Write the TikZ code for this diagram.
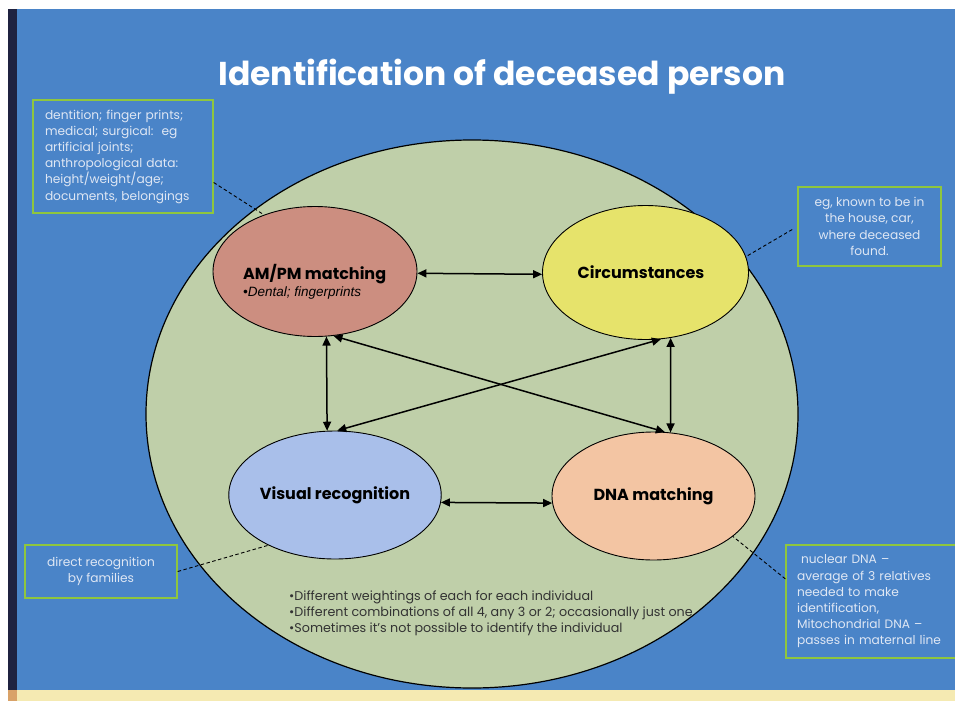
\documentclass[tikz,border=0pt]{standalone}
\usepackage{fontspec}
\setmainfont{Poppins}
\newfontfamily\arialfont{Liberation Sans}
\usetikzlibrary{arrows.meta,shapes.geometric}

\definecolor{slideblue}{HTML}{4A84C8}
\definecolor{stripenavy}{HTML}{1F2240}
\definecolor{stripecream}{HTML}{F5EAB2}
\definecolor{stripetan}{HTML}{D9A268}
\definecolor{outersage}{HTML}{BFCFA9}
\definecolor{ampcol}{HTML}{CC8E80}
\definecolor{circcol}{HTML}{E6E36B}
\definecolor{viscol}{HTML}{A9BFEA}
\definecolor{dnacol}{HTML}{F3C5A3}
\definecolor{boxgreen}{HTML}{8FC63E}
\definecolor{boxtext}{HTML}{DFE7F4}
\definecolor{notegray}{HTML}{333333}

\begin{document}
\begin{tikzpicture}[x=1pt,y=-1pt]
        \useasboundingbox (0,0) rectangle (955,701);
        \clip (0,0) rectangle (955,701);
        \fill[white] (0,0) rectangle (955,701);
        \fill[slideblue] (17,9) rectangle (955,690);
        \fill[stripenavy] (8,9) rectangle (17,690);
        \fill[stripecream] (17,690) rectangle (955,701);
        \fill[stripetan] (8,690) rectangle (17,701);

        \node[text=white, font=\bfseries\fontsize{33}{38}\selectfont] (title) at (502,77) {Identification of deceased person};
        \node[draw, ellipse, fill=outersage, line width=1.2pt, minimum width=652, minimum height=548] (outer) at (472,414) {};

        \begin{scope}[every node/.style={draw, ellipse, line width=0.9pt, inner sep=0, font=\bfseries\fontsize{16}{19}\selectfont}]
                \node[fill=ampcol, minimum width=204, minimum height=130] (amp) at (315,271.5) {};
                \node[fill=circcol, minimum width=206, minimum height=134, text depth=0pt] (circ) at (645.5,272.5) {\hspace*{-9pt}Circumstances};
                \node[fill=viscol, minimum width=204, minimum height=128] (vis) at (335,495) {Visual recognition};
                \node[fill=dnacol, minimum width=203, minimum height=128] (dna) at (653.5,496) {DNA matching};
        \end{scope}
        \node[anchor=west, align=left, inner sep=0, font=\bfseries\fontsize{16}{19}\selectfont] (amptext) at (243,282)
                {AM/PM matching\\[-2pt]{\arialfont\mdseries\itshape\fontsize{13.5}{15}\selectfont •Dental; fingerprints}};

        \begin{scope}[every node/.style={draw=boxgreen, line width=1.3pt, text=boxtext, inner sep=0, font=\fontsize{12.2}{16.2}\selectfont}]
                \node[minimum width=180, minimum height=113, text width=156, align=left] (lbox) at (123,156.5)
                        {dentition; finger prints;\\ medical; surgical:\ \ eg\\ artificial joints;\\ anthropological data:\\ height/weight/age;\\ documents, belongings};
                \node[minimum width=143, minimum height=79, align=center] (rbox) at (869.5,226.5)
                        {eg, known to be in\\ the house, car,\\ where deceased\\ found.};
                \node[minimum width=152, minimum height=53, align=center] (blbox) at (101,571.5)
                        {direct recognition\\ by families};
                \node[minimum width=180, minimum height=113, text width=158, align=left] (brbox) at (876,601.5)
                        {\ nuclear DNA --\\ average of 3 relatives\\ needed to make\\ identification,\\ Mitochondrial DNA --\\ passes in maternal line};
        \end{scope}

        \begin{scope}[every path/.style={line width=0.9pt, dash pattern=on 3.5pt off 2.5pt}]
                \path (lbox.-16) edge (amp.132);
                \path (rbox.west) edge[shorten <=6pt] (circ.9);
                \path (blbox.east) edge (vis.217);
                \path (brbox.166) edge (dna.-27);
        \end{scope}

        \begin{scope}[every path/.style={line width=1.5pt, >={Triangle[length=9pt,width=8pt]}, <->}]
                \path (amp.-1.5) edge (circ.181);
                \path (vis.-4.5) edge (dna.184);
                \path (amp.-80) edge (vis.97);
                \path (circ.-69) edge (dna.75);
                \path (amp.-74) edge (dna.80);
                \path (circ.-77) edge (vis.88);
        \end{scope}

        \node[anchor=north west, align=left, inner sep=0, text=notegray, font=\fontsize{12.7}{16}\selectfont] (notes) at (289,591)
                {•Different weightings of each for each individual\\ •Different combinations of all 4, any 3 or 2; occasionally just one\\ •Sometimes it’s not possible to identify the individual};
\end{tikzpicture}
\end{document}
